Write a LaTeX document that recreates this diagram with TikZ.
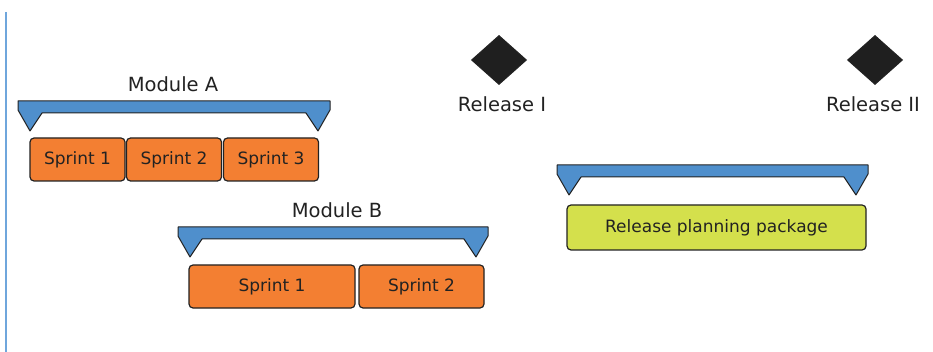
\documentclass[tikz,border=0pt]{standalone}
\usepackage{fontspec}
\setmainfont{DejaVu Sans}
\usetikzlibrary{shapes.geometric}
\definecolor{sprintorange}{HTML}{F37F32}
\definecolor{packagelime}{HTML}{D4E04C}
\definecolor{bracketblue}{HTML}{4F8FCC}
\definecolor{edgeblue}{HTML}{6FA6DC}
\definecolor{inkdark}{HTML}{222222}

\begin{document}
\begin{tikzpicture}[x=1pt, y=-1pt,
    sprint/.style={rectangle, rounded corners=4pt, draw=inkdark, line width=1.2pt,
      fill=sprintorange, minimum height=43pt, inner sep=0pt, text=inkdark,
      font=\fontsize{17}{20}\selectfont},
    package/.style={sprint, fill=packagelime, minimum height=45pt},
    release/.style={diamond, draw=inkdark, line width=1pt, fill=black!88,
      minimum width=55pt, minimum height=49pt, inner sep=0pt},
    caption/.style={text=inkdark, inner sep=0pt, font=\fontsize{19.5}{23}\selectfont},
    bracket/.style={draw=inkdark, line width=1pt, fill=bracketblue, line join=round}]

  \useasboundingbox (0,0) rectangle (933,352);

  % timeline edge on the left
  \draw[edgeblue, line width=1.5pt] (6,12) -- (6,352);

  % brackets over each group
  \foreach \xa/\xb/\yt in {18/330/101, 178/488/227, 557/868/165}
    \draw[bracket] (\xa,\yt) -- (\xb,\yt) -- (\xb,\yt+9) -- (\xb-12,\yt+30)
      -- (\xb-24,\yt+12) -- (\xa+24,\yt+12) -- (\xa+12,\yt+30) -- (\xa,\yt+9) -- cycle;

  % module A
  \node[caption] (modA) at (173,84) {Module A};
  \node[sprint, minimum width=95pt] (a1) at (77.5,159.5) {Sprint 1};
  \node[sprint, minimum width=95pt] (a2) at (174,159.5) {Sprint 2};
  \node[sprint, minimum width=95pt] (a3) at (271,159.5) {Sprint 3};

  % module B
  \node[caption] (modB) at (337,210) {Module B};
  \node[sprint, minimum width=166pt] (b1) at (272,286.5) {Sprint 1};
  \node[sprint, minimum width=125pt] (b2) at (421.5,286.5) {Sprint 2};

  % releases
  \node[release] (rel1) at (499,60) {};
  \node[caption] (rel1txt) at (502,104) {Release I};
  \node[release] (rel2) at (875,60) {};
  \node[caption] (rel2txt) at (873,104) {Release II};

  \node[package, minimum width=299pt] (pkg) at (716.5,227.5) {Release planning package};

\end{tikzpicture}
\end{document}
